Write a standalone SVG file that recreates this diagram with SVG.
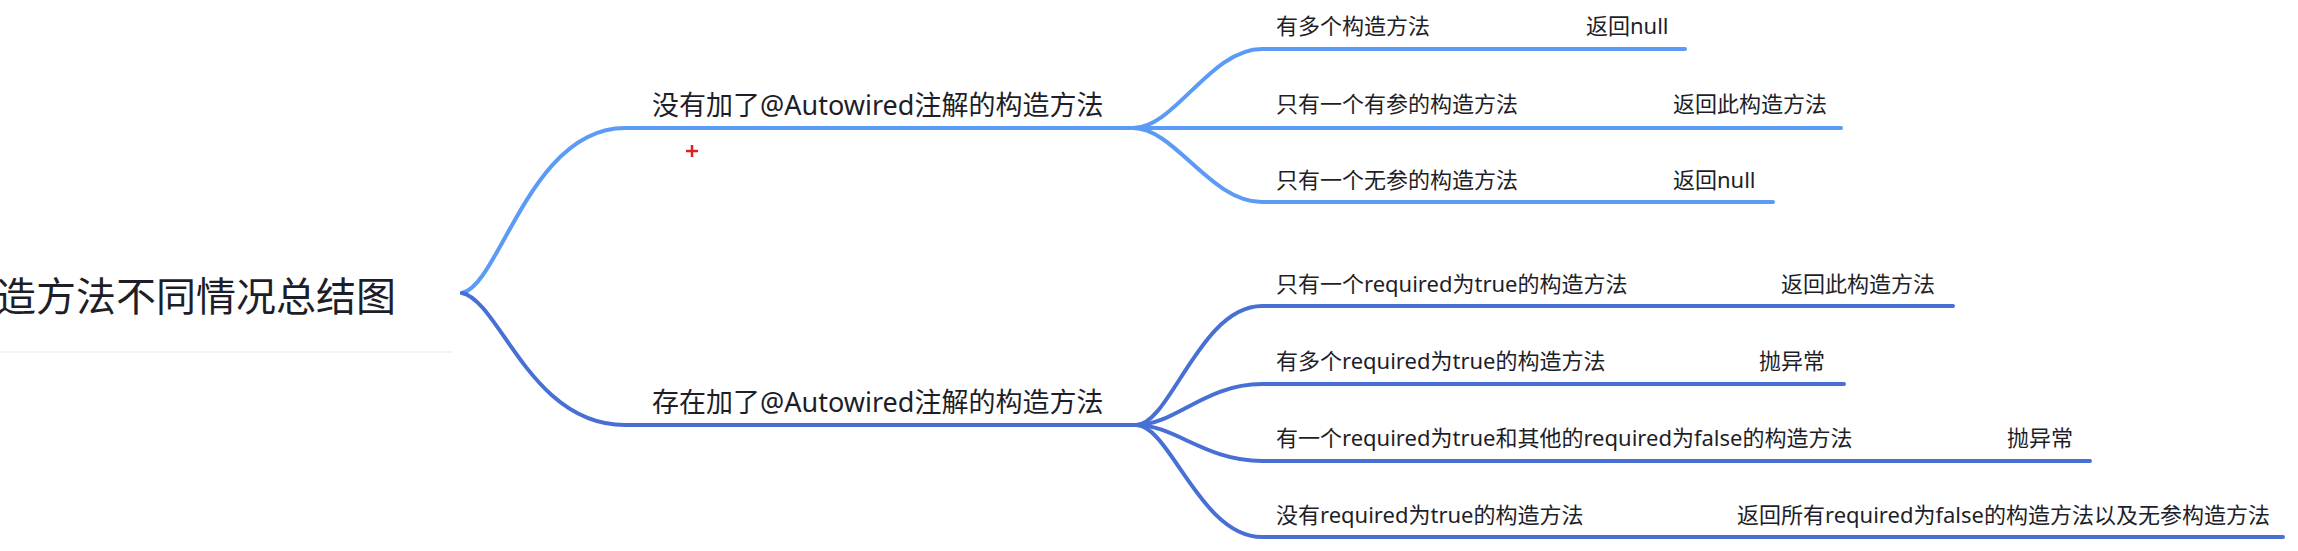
<svg xmlns="http://www.w3.org/2000/svg" width="2298" height="551" viewBox="0 0 2298 551">
<style>
text{font-family:"Noto Sans","Noto Sans CJK SC",sans-serif;fill:#1e1e28}
.root{font-size:40px}
.main{font-size:27px}
.sub{font-size:22px}
.c{fill:none;stroke-width:4;stroke-linecap:round}
.light{stroke:#5b9bf5}
.dark{stroke:#4870d4}
</style>
<rect width="2298" height="551" fill="#ffffff"/>
<g id="connectors">
<path class="c light" d="M462,293 C500,285 530,128 625,128 L1140,128"/>
<path class="c dark" d="M462,293 C500,301 530,425 625,425 L1140,425"/>
<path class="c light" d="M1133,128 C1175,128 1210,49 1262,49 L1685,49"/>
<path class="c light" d="M1133,128 L1841,128"/>
<path class="c light" d="M1133,128 C1175,128 1210,202 1262,202 L1773,202"/>
<path class="c dark" d="M1136,425 C1170,425 1200,306 1262,306 L1953,306"/>
<path class="c dark" d="M1136,425 C1175,425 1205,384 1262,384 L1844,384"/>
<path class="c dark" d="M1136,425 C1175,425 1205,461 1262,461 L2090,461"/>
<path class="c dark" d="M1136,425 C1170,425 1200,537 1262,537 L2283,537"/>
</g>
<g id="root">
<text class="root" x="-4" y="311">造方法不同情况总结图</text>
<line x1="0" y1="352" x2="452" y2="352" stroke="#f0f0f0" stroke-width="1.5"/>
</g>
<g id="branch-no-autowired">
<text class="main" x="652" y="115">没有加了@Autowired注解的构造方法</text>
</g>
<g id="branch-has-autowired">
<text class="main" x="652" y="412">存在加了@Autowired注解的构造方法</text>
</g>
<g id="n1-multi">
<text class="sub" x="1276" y="34">有多个构造方法</text>
<text class="sub" x="1586" y="34">返回null</text>
</g>
<g id="n1-one-param">
<text class="sub" x="1276" y="112">只有一个有参的构造方法</text>
<text class="sub" x="1673" y="112">返回此构造方法</text>
</g>
<g id="n1-one-noparam">
<text class="sub" x="1276" y="188">只有一个无参的构造方法</text>
<text class="sub" x="1673" y="188">返回null</text>
</g>
<g id="n2-one-required">
<text class="sub" x="1276" y="292">只有一个required为true的构造方法</text>
<text class="sub" x="1781" y="292">返回此构造方法</text>
</g>
<g id="n2-multi-required">
<text class="sub" x="1276" y="369">有多个required为true的构造方法</text>
<text class="sub" x="1759" y="369">抛异常</text>
</g>
<g id="n2-mixed">
<text class="sub" x="1276" y="446">有一个required为true和其他的required为false的构造方法</text>
<text class="sub" x="2007" y="446">抛异常</text>
</g>
<g id="n2-none-required">
<text class="sub" x="1276" y="523">没有required为true的构造方法</text>
<text class="sub" x="1737" y="523">返回所有required为false的构造方法以及无参构造方法</text>
</g>
<g id="cursor">
<path d="M686,151 H698 M692,145 V157" stroke="#e02020" stroke-width="2.5" fill="none"/>
</g>
</svg>
